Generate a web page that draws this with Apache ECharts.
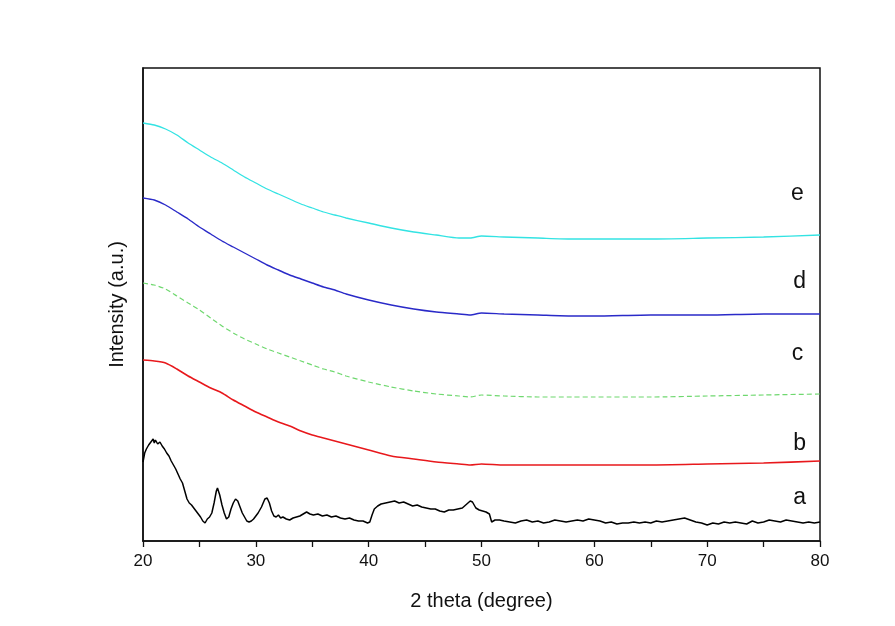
<!DOCTYPE html>
<html>
<head>
<meta charset="utf-8">
<script src="https://cdn.jsdelivr.net/npm/echarts@6/dist/echarts.min.js"></script>
<style>html,body{margin:0;padding:0;background:#fff;}#chart{width:895px;height:626px;}</style>
</head>
<body>
<div id="chart"></div>
<script>
// ---- data (2 theta in degrees, intensity in arbitrary units, curves offset) ----
var xTicks = [20, 30, 40, 50, 60, 70, 80];

var thetaA = [20.0,20.15,20.3,20.5,20.7,20.9,21.0,21.1,21.3,21.5,21.7,21.9,22.1,22.3,22.5,22.7,22.9,23.1,23.3,23.5,23.7,23.9,24.1,24.3,24.5,24.7,24.9,25.1,25.3,25.5,25.7,25.9,26.1,26.3,26.5,26.6,26.8,27.0,27.2,27.4,27.6,27.8,28.0,28.2,28.4,28.6,28.8,29.0,29.2,29.4,29.6,29.8,30.0,30.2,30.5,30.8,31.0,31.2,31.4,31.6,31.8,32.0,32.2,32.4,32.7,33.0,33.3,33.6,33.9,34.2,34.5,34.8,35.1,35.5,35.9,36.3,36.7,37.1,37.5,37.9,38.3,38.7,39.1,39.5,39.9,40.1,40.3,40.5,40.8,41.1,41.5,41.9,42.3,42.7,43.1,43.5,43.9,44.3,44.7,45.1,45.5,45.9,46.3,46.7,47.1,47.5,47.9,48.3,48.7,49.0,49.2,49.5,49.8,50.1,50.4,50.7,50.9,51.2,51.6,52.0,52.5,53.0,53.5,54.0,54.5,55.0,55.5,56.0,56.5,57.0,57.5,58.0,58.5,59.0,59.5,60.0,60.5,61.0,61.5,62.0,62.5,63.0,63.5,64.0,64.5,65.0,65.5,66.0,66.5,67.0,67.5,68.0,68.5,69.0,69.5,70.0,70.5,71.0,71.5,72.0,72.5,73.0,73.5,74.0,74.5,75.0,75.5,76.0,76.5,77.0,77.5,78.0,78.5,79.0,79.5,80.0];
var intensityA = [79,88,92,96,99,102,98,101,97,99,95,92,88,85,80,76,72,67,62,58,50,42,38,36,33,30,27,24,20,18,22,24,28,38,50,53,46,36,28,22,24,32,38,42,40,34,28,24,20,19,20,22,25,28,34,42,43,38,30,25,24,26,23,24,22,21,23,24,25,27,29,27,26,27,25,26,24,25,23,22,23,21,20,20,18,19,26,32,35,37,38,39,40,38,39,37,35,36,34,33,32,32,30,29,31,31,32,33,37,40,39,33,31,30,29,27,19,21,21,20,19,18,20,21,19,20,18,19,21,20,19,20,21,20,22,21,20,18,19,17,18,18,19,18,19,18,20,19,20,21,22,23,21,19,18,16,18,17,19,18,19,18,17,20,18,19,21,20,19,21,20,19,18,19,18,19];

var thetaSmooth = [20,21,22,23,24,25,26,27,28,29,30,31,32,33,34,35,36,37,38,40,42,44,46,48,49,50,52,55,58,60,65,70,75,80];
var intensityB = [181,180,178,172,165,159,153,148,141,135,129,124,119,115,110,106,103,100,97,91,85,82,79,77,76,77,76,76,76,76,76,77,78,80];
var intensityC = [258,256,252,245,238,231,223,215,208,202,197,192,188,184,180,176,172,169,165,159,154,150,147,145,144,146,145,144,144,144,144,145,146,147];
var intensityD = [343,341,336,329,322,314,307,300,294,288,282,276,271,266,262,258,254,251,247,241,236,232,229,227,226,228,227,226,225,225,226,226,227,227];
var intensityE = [418,416,412,406,398,391,384,378,371,364,358,352,347,342,337,333,329,326,323,318,313,309,306,303,303,305,304,303,302,302,302,303,304,306];

var curveNames = ['a', 'b', 'c', 'd', 'e'];
var labelTheta = [78.2, 78.2, 78.0, 78.2, 78.0];
var labelIntensity = [43, 97, 187, 259, 347];

// ---- chart ----
function pairs(xs, ys) { return xs.map(function (x, i) { return [x, ys[i]]; }); }

var colors = ['#000000', '#e8181c', '#6fd86f', '#2a2ac8', '#33e3e3'];
var seriesData = [
  pairs(thetaA, intensityA),
  pairs(thetaSmooth, intensityB),
  pairs(thetaSmooth, intensityC),
  pairs(thetaSmooth, intensityD),
  pairs(thetaSmooth, intensityE)
];
var widths = [1.5, 1.6, 1.2, 1.4, 1.3];

var series = seriesData.map(function (d, i) {
  return {
    type: 'line',
    name: curveNames[i],
    data: d,
    showSymbol: false,
    smooth: i === 0 ? false : 0.2,
    animation: false,
    lineStyle: { color: colors[i], width: widths[i], type: i === 2 ? [5, 3] : 'solid' },
    markPoint: {
      symbol: 'circle',
      symbolSize: 2,
      itemStyle: { color: 'rgba(0,0,0,0)' },
      data: [{ coord: [labelTheta[i], labelIntensity[i]], value: curveNames[i] }],
      label: { show: true, formatter: curveNames[i], color: '#111', fontSize: 23, fontFamily: 'Liberation Sans, Arial, sans-serif', position: 'inside' }
    }
  };
});

var chart = echarts.init(document.getElementById('chart'), null, { renderer: 'canvas' });
chart.setOption({
  backgroundColor: '#ffffff',
  animation: false,
  grid: { left: 143, right: 75, top: 68, bottom: 85, show: true, borderColor: '#111', borderWidth: 1.5, backgroundColor: 'transparent' },
  xAxis: {
    type: 'value', min: xTicks[0], max: xTicks[xTicks.length - 1], interval: 10,
    name: '2 theta (degree)', nameLocation: 'middle', nameGap: 50,
    nameTextStyle: { color: '#111', fontSize: 20, fontFamily: 'Liberation Sans, Arial, sans-serif' },
    axisLine: { show: true, lineStyle: { color: '#111', width: 1.5 } },
    axisTick: { show: true, inside: false, length: 6, lineStyle: { color: '#111', width: 1.3 } },
    minorTick: { show: true, splitNumber: 2, length: 6, lineStyle: { color: '#111', width: 1.3 } },
    splitLine: { show: false },
    axisLabel: { color: '#111', fontSize: 17, margin: 12, fontFamily: 'Liberation Sans, Arial, sans-serif' }
  },
  yAxis: {
    type: 'value', min: 0, max: 473,
    name: 'Intensity (a.u.)', nameLocation: 'middle', nameGap: 16, nameRotate: 90,
    nameTextStyle: { color: '#111', fontSize: 20, fontFamily: 'Liberation Sans, Arial, sans-serif' },
    axisLine: { show: true, lineStyle: { color: '#111', width: 1.5 } },
    axisTick: { show: false },
    axisLabel: { show: false },
    splitLine: { show: false }
  },
  series: series
});
</script>
</body>
</html>
